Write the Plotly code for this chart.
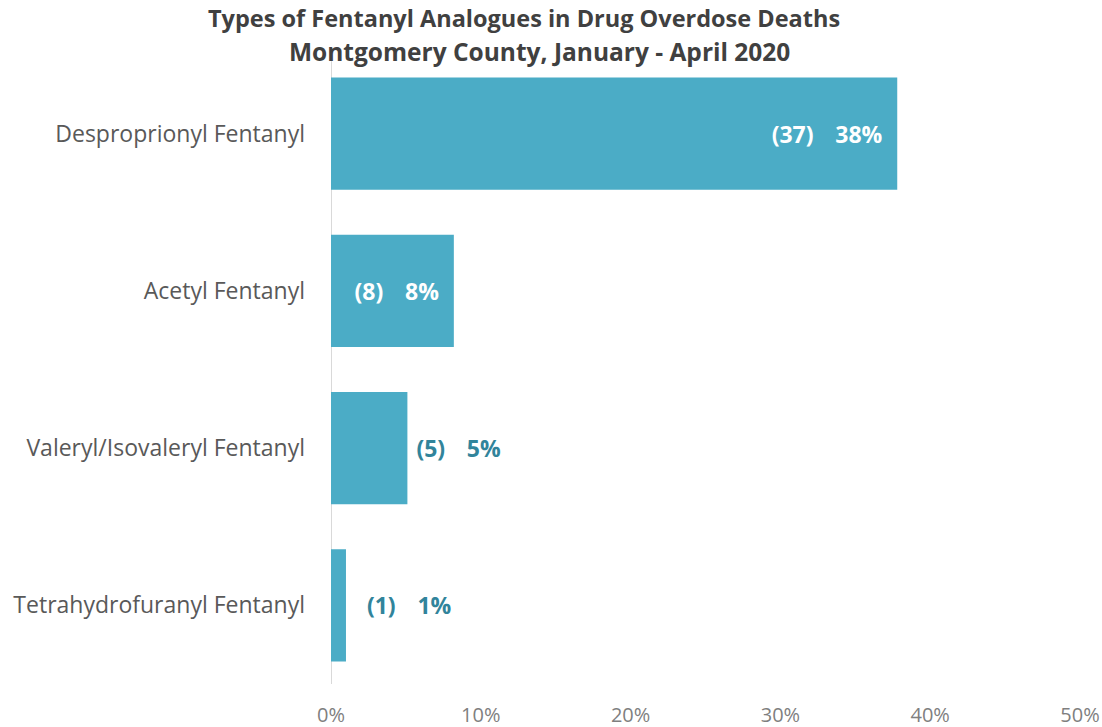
import plotly.graph_objects as go

categories = ["Desproprionyl Fentanyl", "Acetyl Fentanyl",
              "Valeryl/Isovaleryl Fentanyl", "Tetrahydrofuranyl Fentanyl"]
shares = [37.8, 8.2, 5.1, 1.0]          # percent of deaths
counts = [37, 8, 5, 1]
pct_labels = [38, 8, 5, 1]

font = "Open Sans, sans-serif"
bar_color = "#4BACC6"
label_pos = ["inside", "inside", "outside", "outside"]
label_color = ["white", "white", "#31849B", "#31849B"]

nb = "\u00a0"
gap = nb * 3 + "\u2009"
texts = [
    f"({counts[0]}){gap}{pct_labels[0]}%{nb*2}",
    f"({counts[1]}){gap}{pct_labels[1]}%{nb*2}",
    f"{nb}({counts[2]}){gap}{pct_labels[2]}%",
    f"{nb*3}({counts[3]}){gap}{pct_labels[3]}%",
]

fig = go.Figure()

fig.add_trace(
    go.Bar(
        x=shares,
        y=categories,
        orientation="h",
        marker=dict(color=bar_color, line=dict(width=0)),
        text=texts,
        textposition=label_pos,
        insidetextanchor="end",
        textfont=dict(family=font, size=23, color=label_color, weight="bold"),
        cliponaxis=False,
        hoverinfo="skip",
    )
)

fig.update_xaxes(
    range=[0, 50],
    dtick=10,
    ticksuffix="%",
    showgrid=False,
    zeroline=False,
    showline=False,
    automargin=False,
    tickfont=dict(family=font, size=20, color="#7F7F7F"),
    ticklabelstandoff=17,
)
fig.update_yaxes(
    autorange="reversed",
    showgrid=False,
    zeroline=False,
    showline=False,
    automargin=False,
    ticks="",
    tickfont=dict(family=font, size=23, color="#595959"),
    ticklabelstandoff=25,
)

fig.add_shape(type="line", xref="x", yref="paper", x0=0, x1=0, y0=0, y1=0.99,
              line=dict(color="#D9D9D9", width=2), layer="below")

fig.add_annotation(text="<b>Types of Fentanyl Analogues in Drug Overdose Deaths</b>",
                   xref="paper", yref="paper", x=0.258, y=1.059, xanchor="center", yanchor="middle",
                   showarrow=False, font=dict(family=font, size=23.5, color="#404040"))
fig.add_annotation(text="<b>Montgomery County, January - April 2020</b>",
                   xref="paper", yref="paper", x=0.278, y=1.005, xanchor="center", yanchor="middle",
                   showarrow=False, font=dict(family=font, size=24.5, color="#404040"))

fig.update_layout(
    width=1102,
    height=727,
    margin=dict(l=331, r=22, t=55, b=43),
    bargap=0.287,
    showlegend=False,
    plot_bgcolor="white",
    paper_bgcolor="white",
)

fig.write_html("out.html", config={"displayModeBar": False},
               post_script="document.body.style.margin='0';")
